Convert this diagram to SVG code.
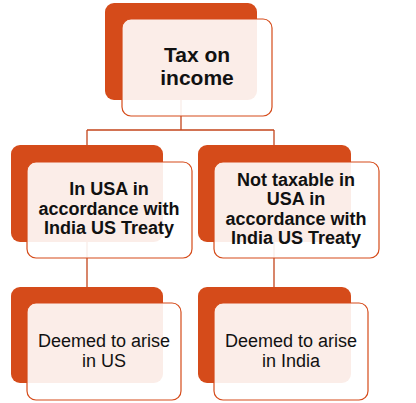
<svg xmlns="http://www.w3.org/2000/svg" width="416" height="403" viewBox="0 0 416 403">
<style>
.back{fill:#D54B1A}
.front{fill:#fff;fill-opacity:0.9;stroke:#D54B1A;stroke-width:1.2}
.b{font-family:"Liberation Sans",Arial,sans-serif;font-weight:bold;fill:#111;text-anchor:middle}
.r{font-family:"Liberation Sans",Arial,sans-serif;fill:#111;text-anchor:middle;font-size:18px}
.conn{stroke:#C4461C;stroke-width:1.3;fill:none}
</style>
<rect width="416" height="403" fill="#fff"/>
<g id="connectors">
<path class="conn" d="M181,100 V130 M87,130 H274 M87,130 V145 M274,130 V145 M87,242 V287 M274,242 V287"/>
</g>
<g id="n1">
<rect class="back" x="105" y="3" width="152" height="97" rx="9"/>
<rect class="front" x="122" y="19" width="150" height="97" rx="9"/>
<text class="b" font-size="21" x="197" y="62">Tax on</text>
<text class="b" font-size="21" x="197" y="85">income</text>
</g>
<g id="n2">
<rect class="back" x="11" y="145" width="152" height="97" rx="9"/>
<rect class="front" x="27" y="162" width="165" height="96" rx="9"/>
<text class="b" font-size="18" x="109" y="195">In USA in</text>
<text class="b" font-size="18" x="109" y="214.5">accordance with</text>
<text class="b" font-size="18" x="109" y="234">India US Treaty</text>
</g>
<g id="n3">
<rect class="back" x="198" y="145" width="153" height="97" rx="9"/>
<rect class="front" x="214" y="162" width="165" height="96" rx="9"/>
<text class="b" font-size="18" x="296" y="185.5">Not taxable in</text>
<text class="b" font-size="18" x="296" y="205">USA in</text>
<text class="b" font-size="18" x="296" y="224.5">accordance with</text>
<text class="b" font-size="18" x="296" y="244">India US Treaty</text>
</g>
<g id="n4">
<rect class="back" x="11" y="287" width="152" height="96" rx="9"/>
<rect class="front" x="27" y="303" width="154" height="97" rx="9"/>
<text class="r" x="104" y="347">Deemed to arise</text>
<text class="r" x="104" y="367">in US</text>
</g>
<g id="n5">
<rect class="back" x="198" y="287" width="153" height="96" rx="9"/>
<rect class="front" x="214" y="303" width="154" height="97" rx="9"/>
<text class="r" x="291" y="347">Deemed to arise</text>
<text class="r" x="291" y="367">in India</text>
</g>
</svg>
